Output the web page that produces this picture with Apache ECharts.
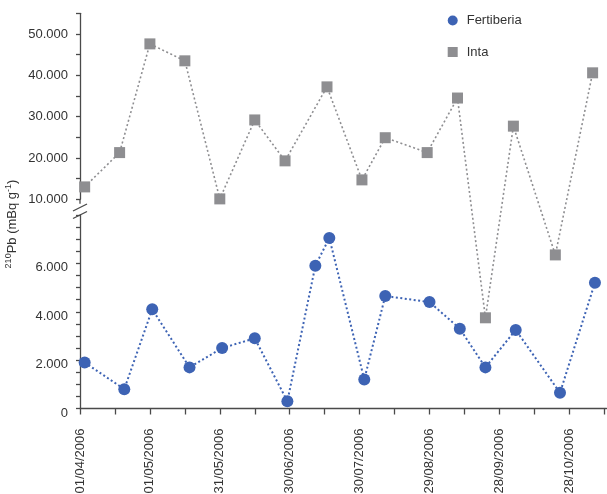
<!DOCTYPE html>
<html><head><meta charset="utf-8">
<script src="https://cdn.jsdelivr.net/npm/echarts@6/dist/echarts.min.js"></script>
<style>html,body{margin:0;padding:0;background:#fff}#c{width:607px;height:494px}</style>
</head><body><div id="c"></div>
<script>
// ---- data ----
const startDate = '01/04/2006';
const fertDates = ['03/04/2006','20/04/2006','02/05/2006','18/05/2006','01/06/2006','15/06/2006','29/06/2006','11/07/2006','17/07/2006','01/08/2006','10/08/2006','29/08/2006','11/09/2006','22/09/2006','05/10/2006','24/10/2006','08/11/2006'];
const fertValues = [1900, 800, 4100, 1700, 2500, 2900, 300, 5900, 7050, 1200, 4650, 4400, 3300, 1700, 3250, 650, 5200];
const intaDates = ['03/04/2006','18/04/2006','01/05/2006','16/05/2006','31/05/2006','15/06/2006','28/06/2006','16/07/2006','31/07/2006','10/08/2006','28/08/2006','10/09/2006','22/09/2006','04/10/2006','22/10/2006','07/11/2006'];
const intaValues = [13000, 21300, 47600, 43500, 10100, 29200, 19300, 37200, 14700, 24900, 21300, 34500, 3750, 27700, 6350, 40600];
const xTickLabels = ['01/04/2006','01/05/2006','31/05/2006','30/06/2006','30/07/2006','29/08/2006','28/09/2006','28/10/2006'];
const lowTickValues = [0, 2000, 4000, 6000];
const lowTickLabels = ['0', '2.000', '4.000', '6.000'];
const upTickValues = [10000, 20000, 30000, 40000, 50000];
const upTickLabels = ['10.000', '20.000', '30.000', '40.000', '50.000'];
const seriesNames = ['Fertiberia', 'Inta'];
const yAxisTitle = '{sup|210}Pb (mBq g{sup|-1})';

// ---- layout ----
const FONT = "'Liberation Sans', Arial, sans-serif";
const H = 494;
const LEFT = 80, RIGHT = 0.4;
const X_MAX = 226;
const LOW_MIN = 0, LOW_MAX = 8000, UP_MIN = 10000, UP_MAX = 55000;
const LOW_TOP = 215, LOW_BOT = 408.5;
const UP_TOP = 13.3, UP_BOT = 199.3;

function dayOf(s) {
  const p = s.split('/');
  const p0 = startDate.split('/');
  return Math.round((Date.UTC(+p[2], +p[1] - 1, +p[0]) - Date.UTC(+p0[2], +p0[1] - 1, +p0[0])) / 86400000);
}
// broken-axis transform: value -> overlay axis units (px from bottom)
const lowH = LOW_BOT - LOW_TOP, upH = UP_BOT - UP_TOP, upBase = LOW_BOT - UP_BOT, totH = LOW_BOT - UP_TOP;
function T(v) {
  return v <= LOW_MAX ? (v - LOW_MIN) / (LOW_MAX - LOW_MIN) * lowH
                      : upBase + (v - UP_MIN) / (UP_MAX - UP_MIN) * upH;
}
const fertData = fertDates.map((d, i) => [dayOf(d), T(fertValues[i]), fertValues[i]]);
const intaData = intaDates.map((d, i) => [dayOf(d), T(intaValues[i]), intaValues[i]]);

const AXIS_COLOR = '#4a4a4a';
const TEXT_COLOR = '#333';
const yBase = {
  type: 'value', splitLine: {show: false},
  axisLine: {show: true, lineStyle: {color: AXIS_COLOR, width: 1.3}},
  axisTick: {show: true, length: 4, lineStyle: {color: AXIS_COLOR, width: 1.3}},
};
function lblFrom(vals, labels) {
  return v => { const i = vals.indexOf(v); return i >= 0 ? labels[i] : ''; };
}
const gridBase = {outerBoundsMode: 'none', containLabel: false};

const chart = echarts.init(document.getElementById('c'), null, {renderer: 'canvas'});
chart.setOption({
  animation: false,
  grid: [
    Object.assign({left: LEFT, right: RIGHT, top: LOW_TOP, bottom: H - LOW_BOT}, gridBase),
    Object.assign({left: LEFT, right: RIGHT, top: UP_TOP, bottom: H - UP_BOT}, gridBase),
    Object.assign({left: LEFT, right: RIGHT, top: UP_TOP, bottom: H - LOW_BOT}, gridBase)
  ],
  xAxis: [
    {gridIndex: 0, type: 'value', min: 0, max: X_MAX, interval: 15, splitLine: {show: false},
     axisLine: {lineStyle: {color: AXIS_COLOR, width: 1.3}},
     axisTick: {length: 6, lineStyle: {color: AXIS_COLOR, width: 1.3}},
     axisLabel: {rotate: 90, margin: 20, fontFamily: FONT, fontSize: 13, color: TEXT_COLOR,
       showMaxLabel: false,
       formatter: v => { const i = xTickLabels.findIndex(s => dayOf(s) === v); return i >= 0 ? xTickLabels[i] : ''; }}},
    {gridIndex: 1, type: 'value', min: 0, max: X_MAX, show: false},
    {gridIndex: 2, type: 'value', min: 0, max: X_MAX, show: false}
  ],
  yAxis: [
    Object.assign({gridIndex: 0, min: LOW_MIN, max: LOW_MAX, interval: 500,
      axisLabel: {margin: 12, verticalAlign: 'top', lineHeight: 9, fontFamily: FONT, fontSize: 13, color: TEXT_COLOR, formatter: lblFrom(lowTickValues, lowTickLabels)}}, yBase),
    Object.assign({gridIndex: 1, min: UP_MIN, max: UP_MAX, interval: 5000,
      axisLabel: {margin: 12, fontFamily: FONT, fontSize: 13, color: TEXT_COLOR, formatter: lblFrom(upTickValues, upTickLabels)}}, yBase),
    {gridIndex: 2, type: 'value', min: 0, max: totH, show: false}
  ],
  legend: {
    orient: 'vertical', left: 442.7, top: 9, itemWidth: 10, itemHeight: 10, itemGap: 18.5,
    textStyle: {fontFamily: FONT, fontSize: 13, color: TEXT_COLOR, padding: [0, 0, 0, 4]},
    data: [{name: seriesNames[0], icon: 'circle'}, {name: seriesNames[1], icon: 'rect'}]
  },
  series: [
    {name: seriesNames[0], type: 'line', xAxisIndex: 2, yAxisIndex: 2, data: fertData,
     symbol: 'circle', symbolSize: 12, itemStyle: {color: '#3d63b4'},
     lineStyle: {color: '#3d63b4', width: 2, type: [2, 2.5]}},
    {name: seriesNames[1], type: 'line', xAxisIndex: 2, yAxisIndex: 2, data: intaData,
     symbol: 'rect', symbolSize: 11, itemStyle: {color: '#8e8e91'},
     lineStyle: {color: '#8e8e91', width: 1.6, type: [2, 2.5]}}
  ],
  graphic: [
    {type: 'line', shape: {x1: LEFT, y1: UP_BOT, x2: LEFT, y2: UP_BOT + 4.5}, style: {stroke: AXIS_COLOR, lineWidth: 1.3}},
    {type: 'line', shape: {x1: 73, y1: 211, x2: 87, y2: 204}, style: {stroke: AXIS_COLOR, lineWidth: 1.3}},
    {type: 'line', shape: {x1: 73, y1: 218.5, x2: 87, y2: 211.5}, style: {stroke: AXIS_COLOR, lineWidth: 1.3}},
    {type: 'text', x: 12, y: 224, rotation: Math.PI / 2,
     style: {text: yAxisTitle, fontFamily: FONT, fontSize: 13, fill: TEXT_COLOR, align: 'center', verticalAlign: 'middle',
       rich: {sup: {fontSize: 9, fontFamily: FONT, fill: TEXT_COLOR, verticalAlign: 'top', padding: [0, 0, 6, 0]}}}}
  ]
});
</script></body></html>
